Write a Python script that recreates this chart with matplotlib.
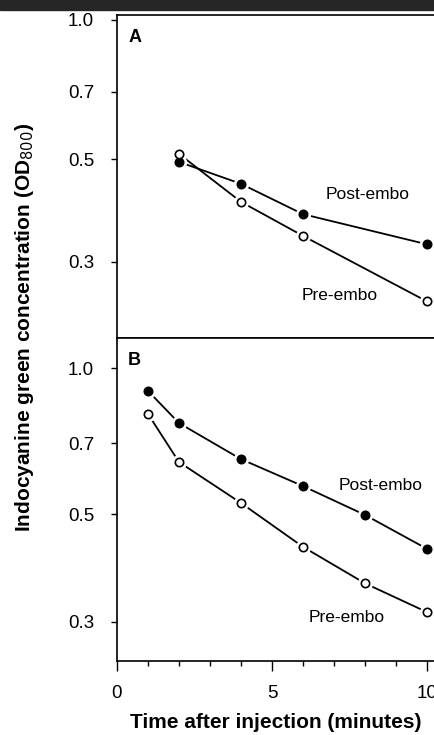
import numpy as np
import matplotlib.pyplot as plt
from matplotlib.ticker import FixedLocator, NullLocator, FormatStrFormatter, MultipleLocator

plt.rcParams["font.family"] = ["Liberation Sans", "DejaVu Sans"]

# Pannello A
t_a = [2, 4, 6, 10]
post_a = [0.493, 0.442, 0.380, 0.327]
pre_a = [0.513, 0.404, 0.341, 0.246]

# Pannello B
t_b = [1, 2, 4, 6, 8, 10]
post_b = [0.897, 0.770, 0.649, 0.571, 0.498, 0.424]
pre_b = [0.804, 0.640, 0.527, 0.428, 0.360, 0.314]

y_ticks = [0.3, 0.5, 0.7, 1.0]

fig = plt.figure(figsize=(4.35, 7.35), dpi=100)

# barra nera in alto
fig.patches.append(plt.Rectangle((0, 1 - 10 / 735), 1, 10 / 735, transform=fig.transFigure,
                                 color="#262626", zorder=0))

left = 117 / 435
ax_a = fig.add_axes([left, 1 - 338 / 735, 1 - left, (338 - 15) / 735])
ax_b = fig.add_axes([left, 1 - 661 / 735, 1 - left, (661 - 338) / 735])


def serie(ax, x, y, filled):
    ax.plot(x, y, color="black", lw=1.3, zorder=2)
    ax.plot(x, y, "o", ms=10, color="white", mec="white", zorder=3, clip_on=False)
    ax.plot(x, y, "o", ms=6, mfc="black" if filled else "white", mec="black", mew=1.2,
            zorder=4, clip_on=False)


for ax, t, post, pre, ylim in [(ax_a, t_a, post_a, pre_a, (0.205, 1.025)),
                                (ax_b, t_b, post_b, pre_b, (0.249, 1.153))]:
    serie(ax, t, post, True)
    serie(ax, t, pre, False)
    ax.set_yscale("log")
    ax.set_ylim(*ylim)
    ax.set_xlim(0, 10.26)
    ax.yaxis.set_major_locator(FixedLocator(y_ticks))
    ax.yaxis.set_major_formatter(FormatStrFormatter("%.1f"))
    ax.yaxis.set_minor_locator(NullLocator())
    ax.spines["right"].set_visible(False)
    for s in ["left", "top", "bottom"]:
        ax.spines[s].set_linewidth(1.2)
    ax.tick_params(axis="y", direction="out", length=4.5, width=1, labelsize=13.5, pad=12)

# asse x pannello A: solo tacche verso il basso
ax_a.xaxis.set_major_locator(MultipleLocator(1))
ax_a.tick_params(axis="x", direction="out", length=3, width=1, labelbottom=False)

# asse x pannello B
ax_b.xaxis.set_major_locator(FixedLocator([0, 5, 10]))
ax_b.xaxis.set_minor_locator(MultipleLocator(1))
ax_b.tick_params(axis="x", which="major", direction="out", length=7, width=1, labelsize=13.5, pad=10)
ax_b.tick_params(axis="x", which="minor", direction="out", length=3.5, width=1)

ax_a.text(0.035, 0.93, "A", transform=ax_a.transAxes, fontsize=13, fontweight="bold", va="center")
ax_b.text(0.035, 0.93, "B", transform=ax_b.transAxes, fontsize=13, fontweight="bold", va="center")

ax_a.text(8.1, 0.42, "Post-embo", fontsize=12.5, ha="center", va="center")
ax_a.text(7.2, 0.253, "Pre-embo", fontsize=12.5, ha="center", va="center")
ax_b.text(8.5, 0.573, "Post-embo", fontsize=12.5, ha="center", va="center")
ax_b.text(7.4, 0.306, "Pre-embo", fontsize=12.5, ha="center", va="center")

ax_b.set_xlabel("Time after injection (minutes)", fontsize=15, fontweight="bold", labelpad=8)
fig.text(25 / 435, 1 - 327 / 735, "Indocyanine green concentration (OD$_{800}$)",
         rotation=90, fontsize=15, fontweight="bold", ha="center", va="center")

fig.savefig("out.png", dpi=100)
